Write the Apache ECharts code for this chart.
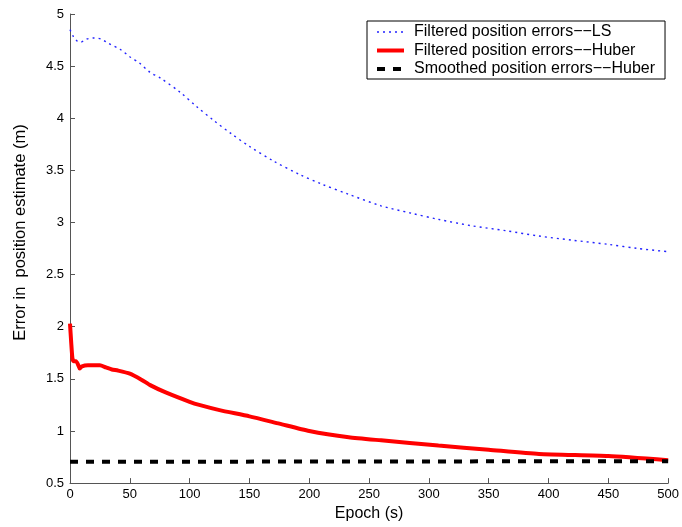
<!DOCTYPE html>
<html>
<head>
<meta charset="utf-8">
<script src="https://cdn.jsdelivr.net/npm/echarts@6/dist/echarts.min.js"></script>
<style>html,body{margin:0;padding:0;background:#fff}#c{width:682px;height:527px}</style>
</head>
<body>
<div id="c"></div>
<script>
const xTicks = [0, 50, 100, 150, 200, 250, 300, 350, 400, 450, 500];
const yTicks = [0.5, 1, 1.5, 2, 2.5, 3, 3.5, 4, 4.5, 5];

const lsX = [0,3,6,9,14,20,26,32,42,50,58,67,75,92,106,120,135,150,170,192,210,233,260,285,308,335,365,392,420,450,475,500];
const lsY = [4.85,4.78,4.74,4.73,4.76,4.77,4.76,4.72,4.66,4.59,4.53,4.44,4.39,4.25,4.11,3.98,3.85,3.73,3.59,3.46,3.37,3.27,3.16,3.09,3.03,2.97,2.92,2.87,2.83,2.79,2.75,2.72];

const huberX = [0,1,2,3,5,7,8,10,15,20,25,30,35,40,50,60,67,80,100,108,125,150,175,200,233,260,308,350,392,450,500];
const huberY = [2.03,1.85,1.70,1.67,1.67,1.63,1.60,1.62,1.63,1.63,1.63,1.61,1.59,1.58,1.55,1.49,1.44,1.37,1.28,1.25,1.20,1.14,1.07,1.00,0.94,0.91,0.86,0.82,0.78,0.76,0.72];

const smX = [0, 100, 200, 300, 400, 500];
const smY = [0.705, 0.705, 0.707, 0.708, 0.709, 0.71];

const names = ["Filtered position errors\u2212\u2212LS", "Filtered position errors\u2212\u2212Huber", "Smoothed position errors\u2212\u2212Huber"];

const pair = (xs, ys) => xs.map((x, i) => [x, ys[i]]);
const FONT = '"Liberation Sans", Arial, Helvetica, sans-serif';
const axisCol = '#555';

const chart = echarts.init(document.getElementById('c'), null, {renderer: 'canvas'});
chart.setOption({
  animation: false,
  backgroundColor: '#fff',
  textStyle: {fontFamily: FONT, color: '#000'},
  grid: {left: 70, right: 11, top: 14, bottom: 38, containLabel: false},
  xAxis: {
    type: 'value', min: 0, max: 500, interval: 50,
    name: 'Epoch (s)', nameLocation: 'middle', nameGap: 17,
    nameTextStyle: {fontFamily: FONT, fontSize: 16, color: '#000'},
    axisLine: {show: true, lineStyle: {color: axisCol, width: 1}},
    axisTick: {show: true, inside: true, length: 5, lineStyle: {color: axisCol}},
    axisLabel: {fontFamily: FONT, fontSize: 13, color: '#000', margin: 5,
      formatter: v => xTicks.includes(v) ? String(v) : ''},
    splitLine: {show: false}
  },
  yAxis: {
    type: 'value', min: 0.5, max: 5, interval: 0.5,
    name: 'Error in  position estimate (m)', nameLocation: 'middle', nameGap: 41, nameRotate: 90,
    nameTextStyle: {fontFamily: FONT, fontSize: 16.5, color: '#000', padding: [0, 0, 0, 32]},
    axisLine: {show: true, lineStyle: {color: axisCol, width: 1}},
    axisTick: {show: true, inside: true, length: 5, lineStyle: {color: axisCol}},
    axisLabel: {fontFamily: FONT, fontSize: 13, color: '#000', margin: 6,
      formatter: v => yTicks.includes(v) ? String(v) : ''},
    splitLine: {show: false}
  },
  legend: {
    show: true,
    orient: 'vertical', left: 367, top: 21,
    padding: [3, 10, 2, 8], itemGap: 2.5, itemWidth: 27, itemHeight: 14,
    borderColor: '#000', borderWidth: 1, backgroundColor: '#fff',
    itemStyle: {color: 'rgba(0,0,0,0)', borderColor: 'rgba(0,0,0,0)', borderWidth: 0, opacity: 0},
    lineStyle: {width: 'inherit'},
    textStyle: {fontFamily: FONT, fontSize: 16, color: '#000', padding: [0, 0, 0, 5]},
    data: names
  },
  series: [
    {name: names[0], type: 'line', data: pair(lsX, lsY), symbol: 'none', smooth: 0.3,
      color: '#0000ff', lineStyle: {color: '#2222ff', width: 1.4, type: [2, 4]}},
    {name: names[1], type: 'line', data: pair(huberX, huberY), symbol: 'none', smooth: 0.2,
      color: '#ff0000', lineStyle: {color: '#ff0000', width: 4}},
    {name: names[2], type: 'line', data: pair(smX, smY), symbol: 'none',
      color: '#000', lineStyle: {color: '#000', width: 4, type: [8, 8]}}
  ]
});
</script>
</body>
</html>
